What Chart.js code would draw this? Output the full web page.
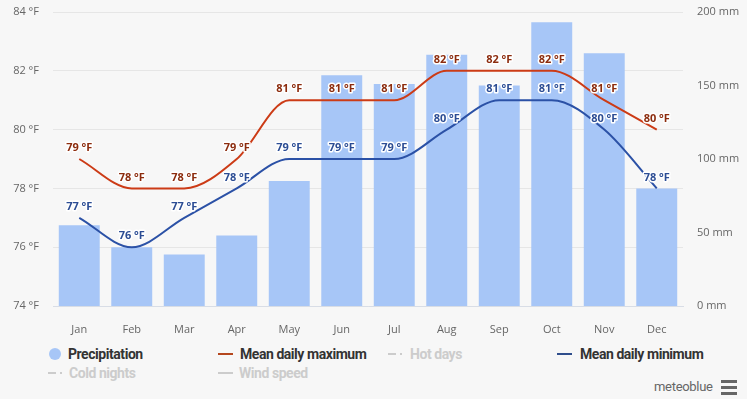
<!DOCTYPE html>
<html>
<head>
<meta charset="utf-8">
<script src="https://cdn.jsdelivr.net/npm/chart.js@4"></script>
<style>
  html, body { margin: 0; padding: 0; background: #f7f7f7; }
  #wrap { position: relative; width: 747px; height: 399px; overflow: hidden; }
  #box { position: absolute; left: 0; top: 0; width: 747px; height: 340px; }
  .lg { position: absolute; font: bold 14px "Liberation Sans Narrow", "Roboto", sans-serif; letter-spacing: -0.45px; color: #333; white-space: nowrap; line-height: 16px; }
  .lg.off { color: #cccccc; }
  .sym { position: absolute; }
  #brand { position: absolute; left: 654px; top: 379px; font: 13px "Roboto", sans-serif; letter-spacing: -0.3px; color: #666; }
  .bar3 { position: absolute; left: 721px; width: 16px; height: 3px; background: #666; }
</style>
</head>
<body>
<div id="wrap">
  <div id="box"><canvas id="mychart"></canvas></div>
  <div id="legend"></div>
  <div id="brand">meteoblue</div>
  <div class="bar3" style="top:380px"></div>
  <div class="bar3" style="top:386px"></div>
  <div class="bar3" style="top:392px"></div>
</div>
<script>
const months = ["Jan", "Feb", "Mar", "Apr", "May", "Jun", "Jul", "Aug", "Sep", "Oct", "Nov", "Dec"];
const precipitation = [55, 40, 35, 48, 85, 157, 151, 171, 150, 193, 172, 80];
const meanMax = [79, 78, 78, 79, 81, 81, 81, 82, 82, 82, 81, 80];
const meanMin = [77, 76, 77, 78, 79, 79, 79, 80, 81, 81, 80, 78];
const tempTicks = [74, 76, 78, 80, 82, 84];
const rainTicks = [0, 50, 100, 150, 200];

const barColor = "#a7c6f7";
const maxColor = "#cc3b16";
const minColor = "#2b51a6";

// legend: [label, symbol, x of symbol, x of text, row y, active]
const legendItems = [
  ["Precipitation", "dot", 49, 68, 346, true],
  ["Mean daily maximum", "line", 218, 240, 346, true],
  ["Hot days", "dash", 388, 410, 346, false],
  ["Mean daily minimum", "line-min", 557, 580, 346, true],
  ["Cold nights", "dash", 48, 69, 365, false],
  ["Wind speed", "grey", 218, 239, 365, false],
];

const lg = document.getElementById("legend");
legendItems.forEach(([label, sym, sx, tx, y, on]) => {
  const s = document.createElement("div");
  s.className = "sym";
  if (sym === "dot") {
    s.style.cssText = `left:${sx}px;top:${y + 2}px;width:12px;height:12px;border-radius:6px;background:${barColor}`;
  } else if (sym === "dash") {
    s.style.cssText = `left:${sx}px;top:${y + 7}px;width:16px;height:2px;background:linear-gradient(90deg,#ccc 0 8px,transparent 8px 12px,#ccc 12px 14px,transparent 14px)`;
  } else {
    const c = sym === "line" ? "#b5471e" : sym === "line-min" ? "#2f4e8c" : "#cccccc";
    s.style.cssText = `left:${sx}px;top:${y + 7}px;width:15px;height:2px;background:${c}`;
  }
  lg.appendChild(s);
  const t = document.createElement("div");
  t.className = "lg" + (on ? "" : " off");
  t.style.left = tx + "px";
  t.style.top = y + "px";
  t.textContent = label;
  lg.appendChild(t);
});

const pointLabels = {
  id: "pointLabels",
  afterDatasetsDraw(chart) {
    const ctx = chart.ctx;
    ctx.save();
    ctx.font = "bold 11px 'Open Sans', sans-serif";
    ctx.textAlign = "center";
    ctx.textBaseline = "middle";
    ctx.lineJoin = "round";
    chart.data.datasets.forEach((ds, i) => {
      if (ds.type !== "line") return;
      const meta = chart.getDatasetMeta(i);
      meta.data.forEach((pt, j) => {
        const txt = ds.data[j] + " °F";
        const y = pt.y - 11;
        ctx.strokeStyle = "#ffffff";
        ctx.lineWidth = 3;
        ctx.strokeText(txt, pt.x, y);
        ctx.fillStyle = ds.labelColor;
        ctx.fillText(txt, pt.x, y);
      });
    });
    ctx.restore();
  },
};

const ctx = document.getElementById("mychart").getContext("2d");

const data = {
  labels: months,
  datasets: [
    {
      type: "line",
      label: "Mean daily maximum",
      data: meanMax,
      yAxisID: "y",
      borderColor: maxColor,
      borderWidth: 2,
      pointRadius: 0,
      cubicInterpolationMode: "monotone",
      labelColor: "#8c2c0e",
      order: 0,
    },
    {
      type: "line",
      label: "Mean daily minimum",
      data: meanMin,
      yAxisID: "y",
      borderColor: minColor,
      borderWidth: 2,
      pointRadius: 0,
      cubicInterpolationMode: "monotone",
      labelColor: "#2c4d94",
      order: 0,
    },
    {
      type: "bar",
      label: "Precipitation",
      data: precipitation,
      yAxisID: "y1",
      backgroundColor: barColor,
      categoryPercentage: 1,
      barPercentage: 0.78,
      order: 1,
    },
  ],
};

const tickFont = { family: "'Open Sans', sans-serif", size: 11 };

const config = {
  data: data,
  plugins: [pointLabels],
  options: {
    responsive: true,
    maintainAspectRatio: false,
    animation: false,
    layout: { padding: { top: 12, left: 0, right: 0, bottom: 0 } },
    plugins: { legend: { display: false }, tooltip: { enabled: false } },
    scales: {
      x: {
        grid: { display: false },
        border: { display: true, color: "#d8dde6" },
        ticks: { color: "#666", font: tickFont, padding: 9 },
        afterFit: (s) => { s.height = 34; s.paddingLeft = 0; s.paddingRight = 0; },
      },
      y: {
        position: "left",
        min: 74,
        max: 84,
        afterBuildTicks: (s) => { s.ticks = tempTicks.map((v) => ({ value: v })); },
        grid: { color: "#e6e6e6", drawTicks: false },
        border: { display: false },
        ticks: { color: "#666", font: tickFont, padding: 14, callback: (v) => v + " °F" },
        afterFit: (s) => { s.width = 53; s.paddingTop = 0; s.paddingBottom = 0; },
      },
      y1: {
        position: "right",
        min: 0,
        max: 200,
        afterBuildTicks: (s) => { s.ticks = rainTicks.map((v) => ({ value: v })); },
        grid: { display: false, drawTicks: false },
        border: { display: false },
        ticks: { color: "#666", font: tickFont, padding: 14, callback: (v) => v + " mm" },
        afterFit: (s) => { s.width = 64; s.paddingTop = 0; s.paddingBottom = 0; },
      },
    },
  },
};

const myChart = new Chart(ctx, config);
</script>
</body>
</html>
